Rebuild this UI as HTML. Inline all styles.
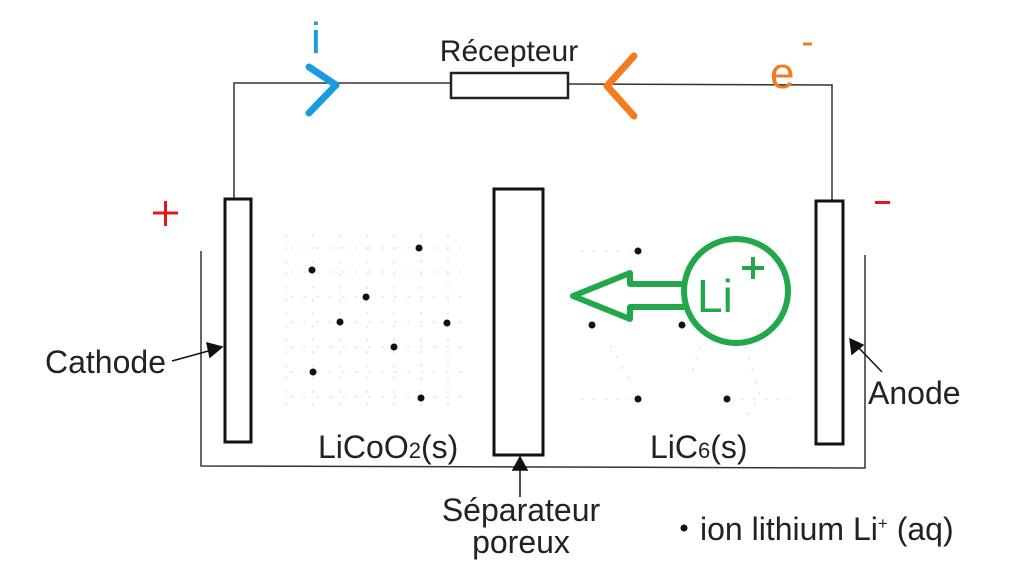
<!DOCTYPE html>
<html><head><meta charset="utf-8"><style>
html,body{margin:0;padding:0;background:#fff;}
svg{display:block;}
text{font-family:"Liberation Sans",Arial,sans-serif;fill:#222;}
</style></head><body>
<svg width="1024" height="579" viewBox="0 0 1024 579" xmlns="http://www.w3.org/2000/svg">
<g stroke="#ddd" stroke-width="1" stroke-dasharray="3 10">
<line x1="286" y1="234" x2="286" y2="412"/><line x1="313" y1="234" x2="313" y2="412"/><line x1="340" y1="234" x2="340" y2="412"/><line x1="367" y1="234" x2="367" y2="412"/><line x1="394" y1="234" x2="394" y2="412"/><line x1="421" y1="234" x2="421" y2="412"/><line x1="448" y1="234" x2="448" y2="412"/>
<line x1="290" y1="248" x2="470" y2="248"/><line x1="290" y1="272" x2="470" y2="272"/><line x1="290" y1="297" x2="470" y2="297"/><line x1="290" y1="322" x2="470" y2="322"/><line x1="290" y1="347" x2="470" y2="347"/><line x1="290" y1="372" x2="470" y2="372"/><line x1="290" y1="397" x2="470" y2="397"/>
</g>
<g stroke="#e4e4e4" stroke-width="1" stroke-dasharray="4 8" fill="none">
<path d="M580 251 L630 251 M740 251 L790 251 M580 399 L630 399 M740 399 L790 399 M610 345 L630 380 M700 345 L690 380 M745 345 L760 395 L745 420"/>
</g>
<g fill="#111">
<circle cx="419" cy="248" r="3.5"/><circle cx="312" cy="270" r="3.5"/><circle cx="366" cy="297" r="3.5"/><circle cx="340" cy="322" r="3.5"/><circle cx="447" cy="323" r="3.5"/><circle cx="394" cy="347" r="3.5"/><circle cx="313" cy="372" r="3.5"/><circle cx="421" cy="398" r="3.5"/>
<circle cx="638" cy="251" r="3.5"/><circle cx="727" cy="251" r="3.5"/><circle cx="592" cy="325" r="3.5"/><circle cx="682" cy="325" r="3.5"/><circle cx="769" cy="323" r="3.5"/><circle cx="638" cy="399" r="3.5"/><circle cx="727" cy="399" r="3.5"/>
</g>
<g stroke="#333" stroke-width="1.5" fill="none">
<polyline points="234,198 234,83 451,83"/>
<polyline points="568,84 832,85 832,200"/>
<polyline points="201,251 201,466 865,468 865,255"/>
</g>
<rect x="451" y="73" width="117" height="25" fill="#fff" stroke="#222" stroke-width="2.5"/>
<g font-size="32">
<text x="509" y="61" text-anchor="middle" font-size="30">Récepteur</text>
<text x="45" y="373">Cathode</text>
<text x="868" y="404">Anode</text>
<text x="318" y="458">LiCoO<tspan font-size="22">2</tspan>(s)</text>
<text x="650" y="458">LiC<tspan font-size="22">6</tspan>(s)</text>
<text x="521" y="521" text-anchor="middle">Séparateur</text>
<text x="521" y="553" text-anchor="middle">poreux</text>
<text x="700" y="540">ion lithium Li<tspan font-size="17" dy="-11">+</tspan><tspan dy="11"> (aq)</tspan></text>
</g>
<rect x="225" y="199" width="26" height="243" fill="#fff" stroke="#111" stroke-width="3"/>
<rect x="494" y="189" width="49" height="266" fill="#fff" stroke="#111" stroke-width="3"/>
<rect x="816" y="201" width="27" height="243" fill="#fff" stroke="#111" stroke-width="3"/>
<g stroke="#111" stroke-width="1.5" fill="#111">
<line x1="172" y1="361" x2="212" y2="350"/><polygon points="222,347 207,343 210,357"/>
<line x1="520" y1="497" x2="520" y2="468"/><polygon points="520,457 513,470 527,470"/>
<line x1="882" y1="372" x2="856" y2="345"/><polygon points="850,339 852,354 863,345"/>
</g>
<circle cx="684" cy="528" r="3.5" fill="#111"/>
<g stroke="#e8141c" stroke-width="3">
<line x1="153" y1="213" x2="178" y2="213"/><line x1="165.5" y1="201" x2="165.5" y2="226"/>
<line x1="875" y1="202.5" x2="890" y2="202.5"/>
</g>
<text x="311" y="53" font-size="44" style="fill:#1a9be0">i</text>
<polyline points="309,67 336,85 309,113" fill="none" stroke="#1a9be0" stroke-width="7" stroke-linecap="round" stroke-linejoin="round"/>
<polyline points="634,56 607,86 634,116" fill="none" stroke="#f47b20" stroke-width="7" stroke-linecap="round" stroke-linejoin="round"/>
<text x="770" y="88" font-size="44" style="fill:#f47b20">e</text>
<line x1="803" y1="44" x2="812" y2="44" stroke="#f47b20" stroke-width="3"/>
<polygon points="573,296 630,273 630,284 688,284 688,307 630,307 630,319" fill="#fff" stroke="#22a84a" stroke-width="6" stroke-linejoin="round"/>
<circle cx="736" cy="291" r="52" fill="#fff" stroke="#22a84a" stroke-width="6"/>
<text x="697" y="312" font-size="46" style="fill:#22a84a">Li</text>
<g stroke="#22a84a" stroke-width="4"><line x1="742" y1="268" x2="764" y2="268"/><line x1="753" y1="257" x2="753" y2="279"/></g>
</svg>
</body></html>
